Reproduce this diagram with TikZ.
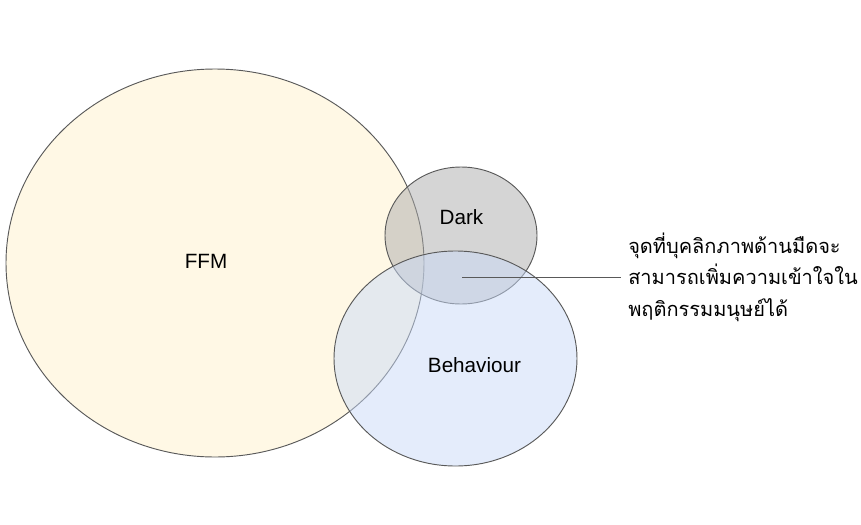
\documentclass[tikz,border=0pt]{standalone}
\usepackage{fontspec}
\setmainfont{Liberation Sans}
\newfontfamily\thaifont[Script=Thai]{Loma}
\usetikzlibrary{shapes.geometric,positioning}
\definecolor{ffmfill}{HTML}{FFF2CC}
\definecolor{darkfill}{HTML}{ABABAB}
\definecolor{behfill}{HTML}{C9DAF8}
\definecolor{rim}{HTML}{595959}
\tikzset{
  vset/.style={ellipse, draw=rim, line width=0.7pt, fill opacity=0.5, inner sep=0pt},
  setname/.style={font=\fontsize{15.5}{18}\selectfont, text=black},
  leader/.style={draw=rim, line width=0.7pt},
}

\begin{document}
\begin{tikzpicture}[x=0.75pt,y=-0.75pt]
\useasboundingbox (0,0) rectangle (861,525);
\node[vset, fill=ffmfill, minimum width=313.5pt, minimum height=291pt] at (215,263)
  (ffm) {};
\node[vset, fill=darkfill, minimum width=114pt, minimum height=102.75pt] at (461,235.5)
  (dark) {};
\node[vset, fill=behfill, minimum width=182.25pt, minimum height=161.25pt] at (455.5,358.5)
  (beh) {};
\node[setname] at (206,261) (ffmtext) {FFM};
\node[setname] at (461.5,217) (darktext) {Dark};
\node[setname] at (474.5,365) (behtext) {Behaviour};

\coordinate (spot) at (462,277);
\node[anchor=west, align=left, inner sep=5.25pt,
  font=\thaifont\fontsize{15}{23.6}\selectfont] at (621,277)
  (note) {จุดที่บุคลิกภาพด้านมืดจะ\\สามารถเพิ่มความเข้าใจใน\\พฤติกรรมมนุษย์ได้};
\draw[leader] (spot) -- (note.west);
\end{tikzpicture}
\end{document}
